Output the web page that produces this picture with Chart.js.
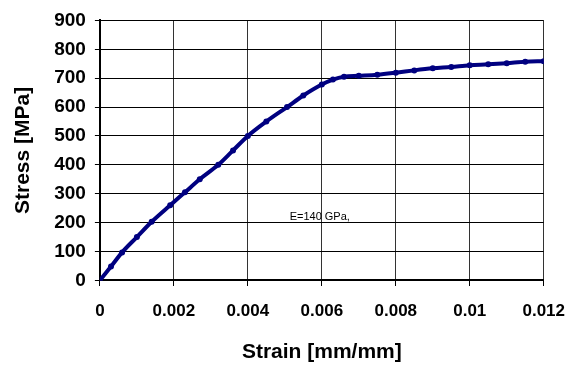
<!DOCTYPE html>
<html>
<head>
<meta charset="utf-8">
<script src="https://cdn.jsdelivr.net/npm/chart.js@4"></script>
<style>
  html, body { margin: 0; padding: 0; background: #fff; }
  #wrap { width: 573px; height: 365px; }
</style>
</head>
<body>
<div id="wrap"><canvas id="c"></canvas></div>
<script>
// strain [mm/mm] and stress [MPa]
const strain = [0, 0.0003, 0.0006, 0.001, 0.0014, 0.0019, 0.0023, 0.0027, 0.0032, 0.0036,
  0.004, 0.0045, 0.00506, 0.0055, 0.006, 0.0063, 0.0066, 0.007, 0.0075, 0.008,
  0.0085, 0.009, 0.0095, 0.01, 0.0105, 0.011, 0.0115, 0.012];
const stress = [0, 48, 97, 150, 203, 260, 305, 350, 400, 450,
  500, 550, 600, 640, 678, 695, 705, 708, 712, 719,
  727, 734, 739, 745, 748, 752, 757, 759];
const note = { text: "E=140 GPa,", x: 0.00513, y: 220 };

const fontFam = "'Liberation Sans', Arial, sans-serif";

const notePlugin = {
  id: "note",
  afterDatasetsDraw(chart) {
    const { ctx, scales } = chart;
    ctx.save();
    ctx.font = "11px " + fontFam;
    ctx.fillStyle = "#000";
    ctx.textBaseline = "middle";
    ctx.fillText(note.text, scales.x.getPixelForValue(note.x), scales.y.getPixelForValue(note.y));
    ctx.restore();
  }
};

new Chart(document.getElementById("c"), {
  type: "line",
  data: {
    datasets: [{
      data: strain.map((s, i) => ({ x: s, y: stress[i] })),
      borderColor: "#000080",
      backgroundColor: "#000080",
      borderWidth: 4,
      pointRadius: 1,
      cubicInterpolationMode: "monotone",
      fill: false
    }]
  },
  options: {
    responsive: true,
    maintainAspectRatio: false,
    animation: false,
    layout: { padding: { top: 19, right: 21, left: 4, bottom: 0 } },
    plugins: {
      legend: { display: false },
      tooltip: { enabled: false }
    },
    scales: {
      x: {
        type: "linear",
        min: 0,
        max: 0.012,
        // long tick space but only a short visible tick mark
        grid: { color: "#333", tickLength: 13, tickColor: "#000", tickBorderDash: [5, 40] },
        border: { color: "#000", width: 2 },
        ticks: {
          stepSize: 0.002,
          color: "#000",
          padding: 8,
          maxRotation: 0,
          font: { family: fontFam, size: 17, weight: "bold" },
          callback: v => String(+v.toFixed(3))
        },
        title: {
          display: true,
          text: "Strain [mm/mm]",
          color: "#000",
          padding: { top: 10, bottom: 0 },
          font: { family: fontFam, size: 21, weight: "bold" }
        }
      },
      y: {
        min: 0,
        max: 900,
        grid: { color: "#000", tickLength: 5, tickColor: "#000" },
        border: { color: "#000", width: 2 },
        ticks: {
          stepSize: 100,
          color: "#000",
          padding: 9,
          font: { family: fontFam, size: 19, weight: "bold" }
        },
        title: {
          display: true,
          text: "Stress [MPa]",
          color: "#000",
          padding: { top: 7, bottom: 9 },
          font: { family: fontFam, size: 21, weight: "bold" }
        }
      }
    }
  },
  plugins: [notePlugin]
});
</script>
</body>
</html>
